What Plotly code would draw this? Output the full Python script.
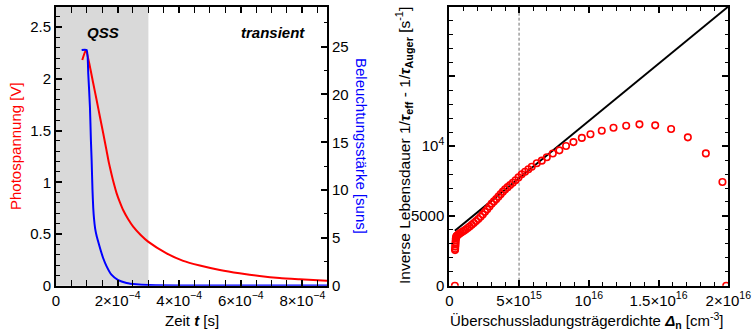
import plotly.graph_objects as go

# ---------------- data: left panel ----------------
t_v = [0.853e-4, 0.972e-4, 1.102e-4, 1.209e-4, 1.319e-4, 1.426e-4, 1.533e-4, 1.643e-4,
       1.72e-4, 1.805e-4, 1.89e-4, 1.967e-4, 2.07e-4, 2.18e-4, 2.34e-4, 2.506e-4,
       2.75e-4, 2.99e-4, 3.59e-4, 4.13e-4, 4.67e-4, 5.32e-4, 5.96e-4, 6.61e-4,
       7.26e-4, 7.91e-4, 8.8e-4]
photovoltage = [2.183, 2.280, 2.118, 1.957, 1.796, 1.634, 1.474, 1.305,
                1.185, 1.075, 0.975, 0.895, 0.810, 0.732, 0.645, 0.571,
                0.490, 0.426, 0.313, 0.240, 0.195, 0.152, 0.120, 0.094,
                0.074, 0.062, 0.047]

t_s = [0.833e-4, 0.995e-4, 1.047e-4, 1.102e-4, 1.134e-4, 1.157e-4, 1.185e-4, 1.21e-4,
       1.235e-4, 1.27e-4, 1.32e-4, 1.38e-4, 1.45e-4, 1.53e-4, 1.64e-4, 1.80e-4,
       2.02e-4, 2.29e-4, 2.6e-4, 3.0e-4, 4.0e-4, 6.0e-4, 8.8e-4]
suns = [24.65, 24.65, 22.2, 18.7, 15.2, 13.1, 10.0, 8.1,
        7.0, 6.0, 5.2, 4.5, 3.7, 2.9, 2.05, 1.15,
        0.58, 0.29, 0.15, 0.07, 0.03, 0.02, 0.01]

x_left_ticks = [0, 2e-4, 4e-4, 6e-4, 8e-4]
x_left_text = ["0", "2×10<sup>−4</sup>", "4×10<sup>−4</sup>", "6×10<sup>−4</sup>", "8×10<sup>−4</sup>"]
qss_end = 3e-4

# ---------------- data: right panel ----------------
dn = [0.40e15, 0.41e15, 0.42e15, 0.43e15, 0.44e15, 0.45e15, 0.46e15, 0.47e15, 0.49e15,
      0.52e15, 0.57e15, 0.64e15, 0.72e15, 0.82e15, 0.93e15, 1.05e15, 1.18e15, 1.32e15,
      1.46e15, 1.61e15, 1.76e15, 1.92e15, 2.08e15, 2.24e15, 2.40e15, 2.56e15, 2.72e15,
      2.88e15, 3.04e15, 3.20e15, 3.36e15, 3.52e15, 3.68e15, 3.84e15, 4.00e15, 4.18e15,
      4.36e15, 4.55e15, 4.75e15, 4.96e15, 5.19e15, 5.43e15, 5.67e15, 5.91e15, 6.27e15,
      6.63e15, 6.99e15, 7.42e15, 7.89e15, 8.37e15, 8.90e15, 9.50e15, 10.12e15, 10.93e15,
      11.77e15, 12.68e15, 13.63e15, 14.76e15, 15.90e15, 17.10e15, 18.39e15, 19.58e15,
      19.85e15]
inv_tau = [0, 2550, 2650, 2800, 2950, 3100, 3250, 3380, 3480,
           3550, 3600, 3660, 3720, 3790, 3860, 3940, 4030, 4130,
           4240, 4360, 4490, 4630, 4780, 4940, 5110, 5290, 5470,
           5670, 5880, 6040, 6200, 6380, 6560, 6740, 6900, 7060,
           7220, 7380, 7560, 7760, 7980, 8160, 8340, 8520, 8770,
           8960, 9200, 9470, 9700, 10010, 10290, 10590, 10850, 11100,
           11320, 11460, 11560, 11490, 11230, 10630, 9480, 7430,
           0]

fit_dn = [0.40e15, 2.0e16]
fit_val = [3930, 20000]
marker_dn = 5e15

x_right_ticks = [0, 5e15, 1e16, 1.5e16, 2e16]
x_right_text = ["0", "5×10<sup>15</sup>", "10<sup>16</sup>", "1.5×10<sup>16</sup>", "2×10<sup>16</sup>"]
y_right_ticks = [0, 5000, 10000, 15000, 20000]
y_right_text = ["0", "5000", "10<sup>4</sup>", "", ""]

# ---------------- figure ----------------
FONT = "Liberation Sans, Arial, sans-serif"
FS = 15
W, H = 752, 333

def px_x(p):
    return p / W

def px_y(p):
    return 1 - p / H

fig = go.Figure()

fig.add_trace(go.Scatter(x=t_v, y=photovoltage, mode="lines",
                         line=dict(color="#ff0000", width=2, shape="spline", smoothing=0.5),
                         xaxis="x", yaxis="y", showlegend=False))
fig.add_trace(go.Scatter(x=t_s, y=suns, mode="lines",
                         line=dict(color="#0000ff", width=2, shape="spline", smoothing=0.5),
                         xaxis="x", yaxis="y2", showlegend=False))

fig.add_trace(go.Scatter(x=fit_dn, y=fit_val, mode="lines",
                         line=dict(color="black", width=2), xaxis="x2", yaxis="y3",
                         showlegend=False))
fig.add_trace(go.Scatter(x=dn, y=inv_tau, mode="markers",
                         marker=dict(symbol="circle-open", color="#ff0000", size=6.5,
                                     line=dict(width=1.6, color="#ff0000")),
                         xaxis="x2", yaxis="y3", showlegend=False))

axis_common = dict(showgrid=False, zeroline=False, showline=True, linecolor="black",
                   linewidth=2, ticks="inside", tickcolor="black", ticklen=6, tickwidth=1.5,
                   automargin=False,
                   tickfont=dict(family=FONT, size=FS, color="black"))

yb, yt = px_y(285.7), px_y(7)

fig.update_layout(
    width=W, height=H,
    margin=dict(l=0, r=0, t=0, b=0, pad=0, autoexpand=False),
    paper_bgcolor="white", plot_bgcolor="white",
    font=dict(family=FONT, size=FS, color="black"),
    xaxis=dict(domain=[px_x(56), px_x(327)], range=[0, 8.8e-4], anchor="y",
               tickmode="array", tickvals=x_left_ticks, ticktext=x_left_text,
               mirror="allticks",
               minor=dict(ticks="inside", dtick=5e-5, tick0=0, ticklen=3.5,
                          tickcolor="black", tickwidth=1.2),
               **axis_common),
    yaxis=dict(domain=[yb, yt], range=[0, 2.695], anchor="x",
               tickmode="linear", tick0=0, dtick=0.5, mirror=True,
               minor=dict(ticks="inside", dtick=0.1, tick0=0, ticklen=3.5,
                          tickcolor="black", tickwidth=1.2),
               **axis_common),
    yaxis2=dict(range=[0, 29.15], overlaying="y", side="right", anchor="x",
                tickmode="linear", tick0=0, dtick=5,
                minor=dict(ticks="inside", dtick=2.5, tick0=0, ticklen=3.5,
                           tickcolor="black", tickwidth=1.2),
                **axis_common),
    xaxis2=dict(domain=[px_x(449.3), px_x(728.3)], range=[0, 2e16], anchor="y3",
                tickmode="array", tickvals=x_right_ticks, ticktext=x_right_text,
                mirror="allticks",
                minor=dict(ticks="inside", dtick=1e15, tick0=0, ticklen=3.5,
                           tickcolor="black", tickwidth=1.2),
                **axis_common),
    yaxis3=dict(domain=[yb, yt], range=[0, 19970], anchor="x2",
                tickmode="array", tickvals=y_right_ticks, ticktext=y_right_text,
                mirror="allticks",
                minor=dict(ticks="inside", dtick=1000, tick0=0, ticklen=3.5,
                           tickcolor="black", tickwidth=1.2),
                **axis_common),
)

fig.add_shape(type="rect", xref="x", yref="y domain", x0=0, x1=qss_end, y0=0, y1=1,
              fillcolor="#d9d9d9", line=dict(width=0), layer="below")
fig.add_shape(type="line", xref="x2", yref="y3 domain", x0=marker_dn, x1=marker_dn, y0=0, y1=1,
              line=dict(color="#707070", width=1, dash="3px,2px"), layer="below")

ann = []
def add_text(text, x, y, color="black", angle=0, size=FS):
    ann.append(dict(text=text, x=px_x(x), y=px_y(y), xref="paper", yref="paper",
                    showarrow=False, textangle=angle, xanchor="center", yanchor="middle",
                    font=dict(family=FONT, size=size, color=color)))

add_text("<b><i>QSS</i></b>", 103, 32)
add_text("<b><i>transient</i></b>", 273, 32)
add_text("Photospannung [V]", 15, 146, color="#ff0000", angle=-90)
add_text("Beleuchtungsstärke [suns]", 362, 146, color="#0000ff", angle=90)
add_text("Zeit <b><i>t</i></b> [s]", 192, 320)
add_text("Überschussladungsträgerdichte <b><i>Δ</i></b><sub><b>n</b></sub> [cm<sup>-3</sup>]", 586, 320)
add_text("Inverse Lebensdauer 1/<b><i>τ</i></b><sub><b>eff</b></sub> - 1/<b><i>τ</i></b><sub><b>Auger</b></sub> [s<sup>-1</sup>]",
         404, 146, angle=-90, size=15.5)
fig.update_layout(annotations=ann)

fig.write_html("out.html")
